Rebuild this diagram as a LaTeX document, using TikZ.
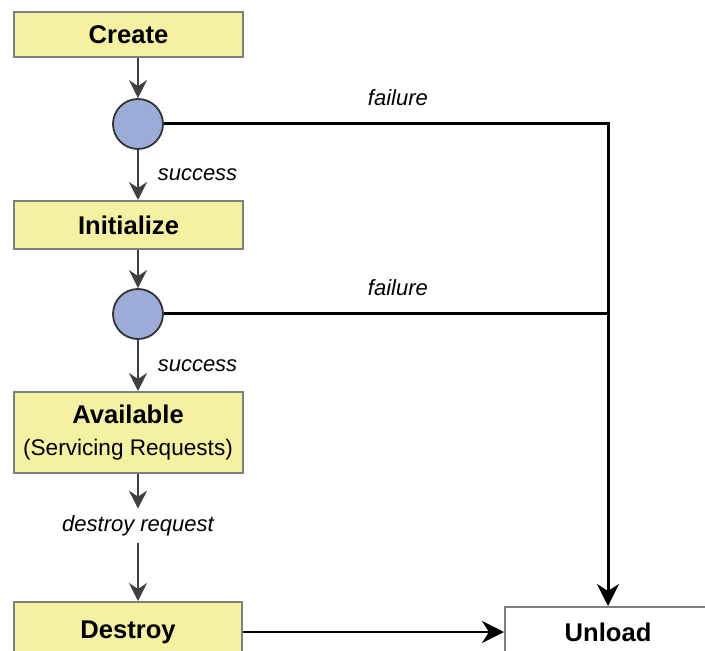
\documentclass[tikz,border=0pt]{standalone}
\usepackage{fontspec}
\setmainfont{Liberation Sans}
\definecolor{StateYellow}{HTML}{F4F1A2}
\definecolor{StateGray}{HTML}{808080}
\definecolor{ChoiceBlue}{HTML}{9DABD8}
\usetikzlibrary{arrows.meta, positioning}

\begin{document}
\begin{tikzpicture}[x=0.5pt, y=-0.5pt,
      state/.style={draw=StateGray, fill=StateYellow, line width=1pt,
         minimum width=114.5pt, align=center, font=\fontsize{12.8}{15}\selectfont\bfseries},
      choice/.style={circle, draw=black!80, fill=ChoiceBlue, line width=0.9pt,
         minimum size=25pt, inner sep=0pt},
      lbl/.style={font=\fontsize{11}{13}\selectfont\itshape},
      flow/.style={-{Stealth[length=9pt, width=9pt, inset=3pt]}, line width=1.1pt, draw=black!75},
      fail/.style={-{Stealth[length=11pt, width=11pt, inset=3.5pt]}, line width=1.5pt}]
   \clip (0,0) rectangle (705,651);
   % states on the left
   \node[state, minimum height=22.5pt] (create) at (128.5,34.5) {Create};
   \node[choice] (c1) at (138,124) {};
   \node[state, minimum height=24pt] (init) at (128.5,225) {Initialize};
   \node[choice] (c2) at (138,314) {};
   \node[state, minimum height=40.5pt] (avail) at (128,432.5)
      {Available\\[1pt]{\mdseries\fontsize{11.3}{13}\selectfont(Servicing Requests)}};
   \node[lbl] (dreq) at (138,526) {destroy request};
   \node[state, minimum height=30pt, minimum width=114pt] (destroy) at (128,632) {Destroy};
   \node[state, fill=white, minimum height=25pt, minimum width=103pt] (unload) at (608,632) {Unload};
   % main line
   \draw[flow] (c1 |- create.south) -- (c1.north);
   \draw[flow] (c1.south) -- node[lbl, right=6pt] {success} (c1 |- init.north);
   \draw[flow] (c2 |- init.south) -- (c2.north);
   \draw[flow] (c2.south) -- node[lbl, right=6pt] {success} (c2 |- avail.north);
   \draw[flow] (dreq |- avail.south) -- (dreq.north);
   \draw[flow] (dreq.south) -- (dreq |- destroy.north);
   % failures and unload
   \coordinate (join) at (c2 -| unload.north);
   \draw[fail] (c1.east) -- node[lbl, above=5pt, xshift=6pt] {failure} (c1 -| unload.north) -- (unload.north);
   \draw[line width=1.5pt] (c2.east) -- node[lbl, above=5pt, xshift=6pt] {failure} (join);
   \draw[fail, line width=1.3pt] (destroy.east) -- (unload.west);
\end{tikzpicture}
\end{document}
